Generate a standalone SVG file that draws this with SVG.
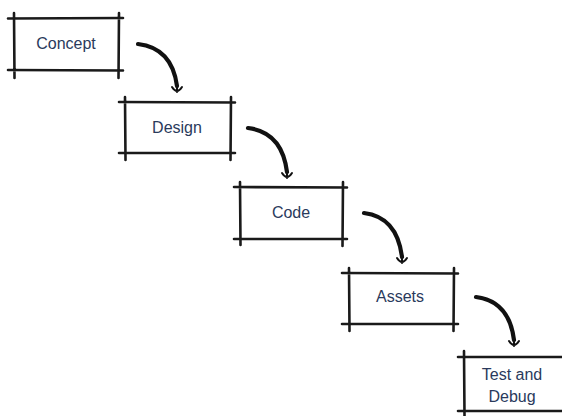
<svg xmlns="http://www.w3.org/2000/svg" width="562" height="416" viewBox="0 0 562 416">
<style>
.edge{stroke:#1a1a1a;stroke-width:2.6;stroke-linecap:round;fill:none}
.lbl{font-family:"Liberation Sans","DejaVu Sans",sans-serif;font-size:16px;fill:#2a3a5c;text-anchor:middle}
.arc{stroke:#111;stroke-width:4.2;fill:none;stroke-linecap:round}
.head{stroke:#111;stroke-width:2;fill:none;stroke-linecap:round;stroke-linejoin:round}
</style>
<rect width="562" height="416" fill="#fff"/>
<g id="concept">
<path class="edge" d="M8,18.5 L123,18 M8,70 L123,70.5 M14,13 L14.5,78 M119,13 L118.5,78"/>
<text class="lbl" x="66" y="49">Concept</text>
</g>
<g id="design">
<path class="edge" d="M119,102 L235,102.5 M119,153 L235,153 M125,97 L125.5,160 M231,97 L230.5,160"/>
<text class="lbl" x="177" y="133">Design</text>
</g>
<g id="code">
<path class="edge" d="M234,187 L347,187.5 M234,239 L347,239 M240,182 L240.5,245 M343,182 L342.5,246"/>
<text class="lbl" x="291" y="218">Code</text>
</g>
<g id="assets">
<path class="edge" d="M342,273 L458,273.5 M342,324 L458,324 M349,268 L349.5,331 M454,268 L453.5,331"/>
<text class="lbl" x="400" y="302">Assets</text>
</g>
<g id="testdebug">
<path class="edge" d="M458,357 L562,357 M458,411 L562,411 M464,351 L464.5,416"/>
<text class="lbl" x="512" y="380">Test and</text>
<text class="lbl" x="512" y="402">Debug</text>
</g>
<g id="connectors">
<path class="arc" d="M138,44 Q172,48 177,86"/>
<path class="head" d="M172,87 Q177,95 182,87 M177,84 L177,92"/>
<path class="arc" d="M248,128 Q282,132 287,172"/>
<path class="head" d="M282,173 Q287,181 292,173 M287,170 L287,178"/>
<path class="arc" d="M364,213 Q397,217 402,257"/>
<path class="head" d="M397,258 Q402,266 407,258 M402,255 L402,263"/>
<path class="arc" d="M476,297 Q509,301 514,340"/>
<path class="head" d="M509,341 Q514,349 519,341 M514,338 L514,346"/>
</g>
</svg>
